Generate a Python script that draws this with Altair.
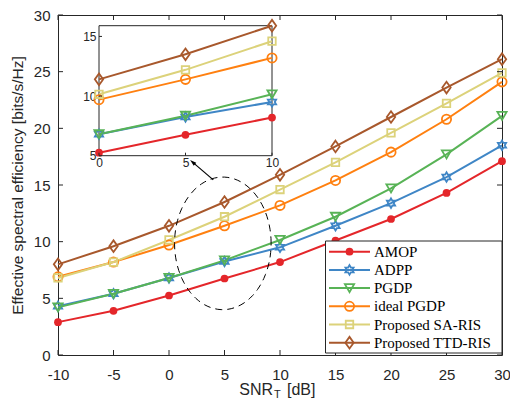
import math
import altair as alt
import pandas as pd

# ---------------- data ----------------
snr = [-10, -5, 0, 5, 10, 15, 20, 25, 30]
series_names = ["AMOP", "ADPP", "PGDP", "ideal PGDP", "Proposed SA-RIS", "Proposed TTD-RIS"]
amop = [2.9, 3.9, 5.25, 6.75, 8.2, 10.1, 12.0, 14.3, 17.1]
adpp = [4.3, 5.4, 6.8, 8.25, 9.5, 11.4, 13.4, 15.7, 18.5]
pgdp = [4.2, 5.4, 6.8, 8.35, 10.15, 12.2, 14.7, 17.7, 21.1]
ideal_pgdp = [6.9, 8.2, 9.7, 11.4, 13.2, 15.4, 17.9, 20.8, 24.1]
sa_ris = [6.8, 8.2, 10.15, 12.2, 14.6, 17.0, 19.6, 22.2, 24.9]
ttd_ris = [8.0, 9.6, 11.4, 13.5, 15.9, 18.4, 21.0, 23.6, 26.1]

x_ticks = [-10, -5, 0, 5, 10, 15, 20, 25, 30]
y_ticks = [0, 5, 10, 15, 20, 25, 30]
inset_x_ticks = [0, 5, 10]
inset_y_ticks = [5, 10, 15]

# ---------------- styles ----------------
colors = ["#e4262a", "#3f86c6", "#58b356", "#ff8010", "#dcd27a", "#a8582c"]
AX = "#262626"
W, H = 444, 340
HYPHEN_LABEL = "datum.value < 0 ? '-' + abs(datum.value) : '' + datum.value"

hexagram = []
for k in range(12):
    ang = math.radians(-90 + 30 * k)
    r = 1.0 if k % 2 == 0 else 0.58
    hexagram.append(f"{r * math.cos(ang):.3f},{r * math.sin(ang):.3f}")
hexagram_path = "M" + "L".join(hexagram) + "Z"
diamond_path = "M0,-1L0.72,0L0,1L-0.72,0Z"
arrow_head = "M0,0L-0.6,2L0.6,2Z"

shapes = ["circle", hexagram_path, "triangle-down", "circle", "square", diamond_path]
sizes = [60, 90, 85, 85, 56, 135]
filled = [True, False, False, False, False, False]

rows = []
for name, vals in zip(series_names, [amop, adpp, pgdp, ideal_pgdp, sa_ris, ttd_ris]):
    for s, v in zip(snr, vals):
        rows.append({"snr": s, "val": v, "series": name})
df = pd.DataFrame(rows)
inset_df = df[(df["snr"] >= 0) & (df["snr"] <= 10)]

color_enc = alt.Color("series:N", scale=alt.Scale(domain=series_names, range=colors), legend=None)

# ---------------- main panel ----------------
xs_main = alt.Scale(domain=[-10, 30], nice=False, zero=False)
ys_main = alt.Scale(domain=[0, 30], nice=False, zero=False)
xa_main = alt.Axis(values=x_ticks, tickSize=0, domain=False, grid=False,
                   labelFontSize=15, labelPadding=12, labelFlush=False,
                   labelOverlap=False, title=None, labelExpr=HYPHEN_LABEL)
ya_main = alt.Axis(values=y_ticks, tickSize=0, domain=False, grid=False,
                   labelFontSize=15, labelPadding=8, labelFlush=False,
                   labelOverlap=False,
                   title="Effective spectral efficiency [bits/s/Hz]",
                   titleFontSize=15.5, titleFontWeight="normal", titlePadding=8)


def mx(field):
    return alt.X(field, scale=xs_main, axis=xa_main)


def my(field):
    return alt.Y(field, scale=ys_main, axis=ya_main)


main_layers = [
    alt.Chart(df).mark_line(strokeWidth=2).encode(x=mx("snr:Q"), y=my("val:Q"), color=color_enc)
]


def marker_layers(data, fx, fy):
    out = []
    for i, name in enumerate(series_names):
        sub = data[data["series"] == name]
        out.append(
            alt.Chart(sub).mark_point(shape=shapes[i], size=sizes[i], filled=filled[i],
                                      color=colors[i], strokeWidth=1.8, opacity=1).encode(
                x=fx("snr:Q"), y=fy("val:Q"))
        )
    return out


main_layers += marker_layers(df, mx, my)

xt = pd.DataFrame({"t": x_ticks})
yt = pd.DataFrame({"t": y_ticks})
for y1, y2 in [(H, H - 5), (0, 5)]:
    main_layers.append(alt.Chart(xt).mark_rule(color=AX, strokeWidth=1).encode(
        x=mx("t:Q"), y=alt.value(y1), y2=alt.value(y2)))
for x1, x2 in [(0, 5), (W, W - 5)]:
    main_layers.append(alt.Chart(yt).mark_rule(color=AX, strokeWidth=1).encode(
        y=my("t:Q"), x=alt.value(x1), x2=alt.value(x2)))

# dashed ellipse annotation
ell_cx, ell_cy, ell_rx, ell_ry = 4.85, 9.85, 4.35, 5.85
ell = pd.DataFrame([
    {"i": k, "ex": ell_cx + ell_rx * math.cos(math.radians(k)),
     "ey": ell_cy + ell_ry * math.sin(math.radians(k))}
    for k in range(0, 361, 4)
])
main_layers.append(alt.Chart(ell).mark_line(color="black", strokeWidth=1, strokeDash=[7, 5]).encode(
    x=mx("ex:Q"), y=my("ey:Q"), order="i:Q"))

arrow = pd.DataFrame({"ax": [3.99, 2.2], "ay": [15.45, 16.95], "i": [0, 1]})
main_layers.append(alt.Chart(arrow).mark_line(color="black", strokeWidth=1.2).encode(
    x=mx("ax:Q"), y=my("ay:Q"), order="i:Q"))
tip = pd.DataFrame({"ax": [1.9], "ay": [17.21]})
main_layers.append(alt.Chart(tip).mark_point(shape=arrow_head, size=42, angle=310.6, filled=True,
                                              color="black", opacity=1).encode(
    x=mx("ax:Q"), y=my("ay:Q")))

# x-axis title with subscript
one = pd.DataFrame({"a": [0]})
main_layers.append(alt.Chart(one).mark_text(text="SNR", align="right", baseline="alphabetic",
                                             fontSize=16, font="Liberation Sans", color=AX).encode(
    x=alt.value(215), y=alt.value(380)))
main_layers.append(alt.Chart(one).mark_text(text="T", align="left", baseline="alphabetic",
                                             fontSize=11, font="Liberation Sans", color=AX).encode(
    x=alt.value(216), y=alt.value(383)))
main_layers.append(alt.Chart(one).mark_text(text="[dB]", align="left", baseline="alphabetic",
                                             fontSize=16, font="Liberation Sans", color=AX).encode(
    x=alt.value(229), y=alt.value(380)))

main = alt.layer(*main_layers)

# ---------------- inset ----------------
in_left, in_right, in_bottom, in_top = 41, 214, 140.7, 10.7
xs_in = alt.Scale(domain=[0, 10], range=[in_left, in_right], nice=False, zero=False)
ys_in = alt.Scale(domain=[5, 15.9], range=[in_bottom, in_top], nice=False, zero=False)
xa_in = alt.Axis(orient="bottom", offset=-(H - in_bottom), values=inset_x_ticks,
                 tickSize=0, domain=False, grid=False, labelFontSize=12,
                 labelPadding=2, labelFlush=False, labelOverlap=False, title=None)
ya_in = alt.Axis(orient="left", offset=-in_left, values=inset_y_ticks,
                 tickSize=0, domain=False, grid=False, labelFontSize=12,
                 labelPadding=3, labelFlush=False, labelOverlap=False, title=None)


def ix(field):
    return alt.X(field, scale=xs_in, axis=xa_in)


def iy(field):
    return alt.Y(field, scale=ys_in, axis=ya_in)


inset_layers = [
    alt.Chart(one).mark_rect(fill="white", stroke=AX, strokeWidth=1).encode(
        x=alt.XDatum(0, scale=xs_in, axis=xa_in), x2=alt.X2Datum(10),
        y=alt.YDatum(5, scale=ys_in, axis=ya_in), y2=alt.Y2Datum(15.9)),
    alt.Chart(inset_df).mark_line(strokeWidth=2).encode(x=ix("snr:Q"), y=iy("val:Q"), color=color_enc),
]
inset_layers += marker_layers(inset_df, ix, iy)
ixt = pd.DataFrame({"t": inset_x_ticks})
iyt = pd.DataFrame({"t": inset_y_ticks})
inset_layers.append(alt.Chart(ixt).mark_rule(color=AX, strokeWidth=1).encode(
    x=ix("t:Q"), y=alt.value(in_bottom), y2=alt.value(in_bottom - 3)))
inset_layers.append(alt.Chart(iyt).mark_rule(color=AX, strokeWidth=1).encode(
    y=iy("t:Q"), x=alt.value(in_left), x2=alt.value(in_left + 3)))
inset = alt.layer(*inset_layers)

# ---------------- legend ----------------
leg_df = pd.DataFrame({"series": series_names})
ys_leg = alt.Scale(type="point", domain=series_names, range=[236.7, 327.7], padding=0)
leg_layers = [
    alt.Chart(one).mark_rect(fill="white", stroke=AX, strokeWidth=1).encode(
        x=alt.value(267.5), x2=alt.value(W), y=alt.value(226), y2=alt.value(338)),
]
for i, name in enumerate(series_names):
    sub = leg_df[leg_df["series"] == name]
    leg_layers.append(alt.Chart(sub).mark_rule(color=colors[i], strokeWidth=2).encode(
        y=alt.Y("series:N", scale=ys_leg, axis=None), x=alt.value(271), x2=alt.value(312)))
    leg_layers.append(alt.Chart(sub).mark_point(shape=shapes[i], size=sizes[i], filled=filled[i],
                                                 color=colors[i], strokeWidth=1.8, opacity=1).encode(
        y=alt.Y("series:N", scale=ys_leg, axis=None), x=alt.value(291.5)))
leg_layers.append(alt.Chart(leg_df).mark_text(align="left", baseline="middle", font="Liberation Serif",
                                               fontSize=15, color="black").encode(
    y=alt.Y("series:N", scale=ys_leg, axis=None), x=alt.value(316), text="series:N"))
legend = alt.layer(*leg_layers)

chart = alt.layer(main, inset, legend).resolve_scale(
    x="independent", y="independent"
).properties(
    width=W, height=H,
    padding={"left": 50, "top": 7, "right": 8, "bottom": 45},
    autosize=alt.AutoSizeParams(type="none"),
).configure_view(
    stroke=AX, strokeWidth=1
).configure_axis(
    labelFont="Liberation Sans", titleFont="Liberation Sans", labelColor=AX, titleColor=AX
)

chart.save("out.html", embed_options={"renderer": "svg", "actions": False})
